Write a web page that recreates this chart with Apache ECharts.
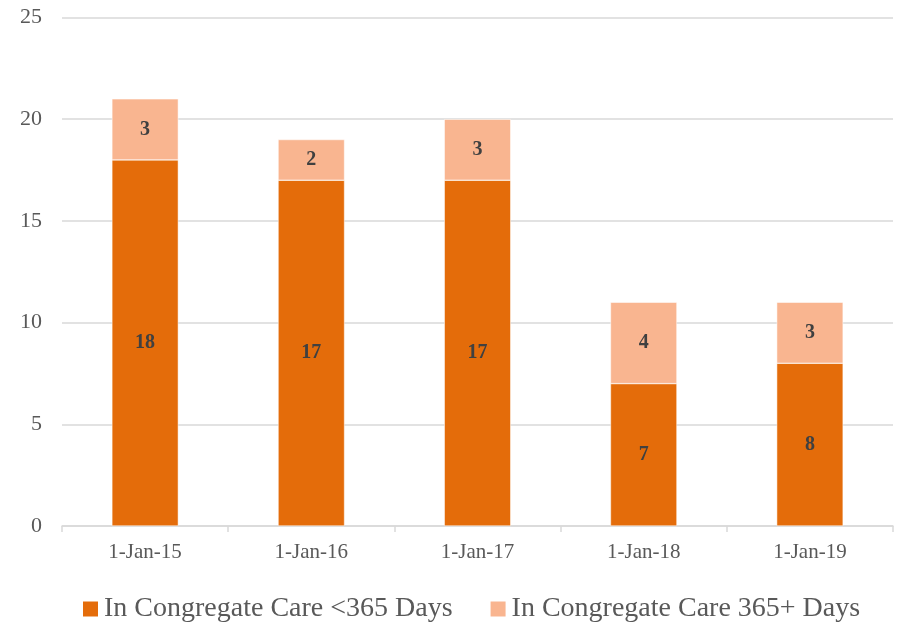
<!DOCTYPE html>
<html><head><meta charset="utf-8">
<script src="https://cdn.jsdelivr.net/npm/echarts@6/dist/echarts.min.js"></script>
<style>html,body{margin:0;padding:0;background:#fff}#c{width:900px;height:622px}</style>
</head><body><div id="c"></div>
<script>
const categories = ['1-Jan-15','1-Jan-16','1-Jan-17','1-Jan-18','1-Jan-19'];
const under365 = [18, 17, 17, 7, 8];
const over365 = [3, 2, 3, 4, 3];
const yTicks = [0, 5, 10, 15, 20, 25];

const font = "'Liberation Serif', 'DejaVu Serif', serif";
const chart = echarts.init(document.getElementById('c'));
const labelStyle = {show:true, position:'inside', fontFamily:font, fontSize:20, fontWeight:'bold', color:'#404040'};
chart.setOption({
  animation:false,
  grid:{left:62, right:7, top:17.5, bottom:96},
  legend:{top:590, left:76, itemWidth:17, itemHeight:17, itemGap:36, icon:'rect',
    textStyle:{fontFamily:font, fontSize:28, color:'#595959'},
    data:['In Congregate Care <365 Days','In Congregate Care 365+ Days']},
  xAxis:{type:'category', data:categories,
    axisLine:{lineStyle:{color:'#D9D9D9', width:1.5}},
    axisTick:{show:true, length:6, lineStyle:{color:'#D9D9D9', width:1.5}},
    axisLabel:{fontFamily:font, fontSize:21, color:'#595959', margin:16}},
  yAxis:{type:'value', min:yTicks[0], max:yTicks[yTicks.length-1], interval:5,
    axisLine:{show:false}, axisTick:{show:false},
    splitLine:{lineStyle:{color:'#D9D9D9', width:1.5}},
    axisLabel:{fontFamily:font, fontSize:22, color:'#595959', margin:20}},
  series:[
    {name:'In Congregate Care <365 Days', type:'bar', stack:'a', data:under365, barWidth:'40%',
      itemStyle:{color:'#E46C0A', borderColor:'#ffffff', borderWidth:0.5}, label:labelStyle},
    {name:'In Congregate Care 365+ Days', type:'bar', stack:'a', data:over365, barWidth:'40%',
      itemStyle:{color:'#F9B590', borderColor:'#ffffff', borderWidth:0.5}, label:labelStyle}
  ]
});
</script></body></html>
